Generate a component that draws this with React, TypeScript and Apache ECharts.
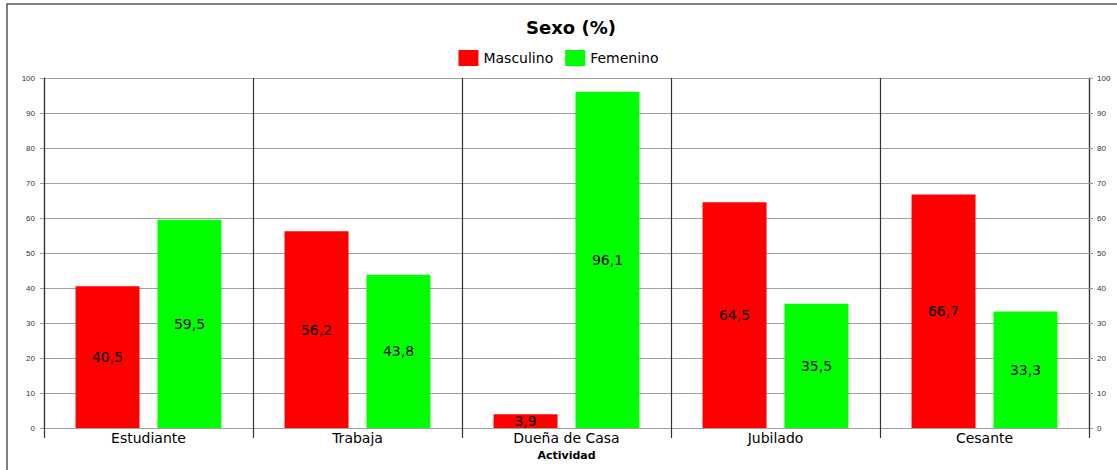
import React, { useEffect, useRef } from "react";
import * as echarts from "echarts";

const categories = ["Estudiante", "Trabaja", "Dueña de Casa", "Jubilado", "Cesante"];
const masculino = [40.5, 56.2, 3.9, 64.5, 66.7];
const femenino = [59.5, 43.8, 96.1, 35.5, 33.3];
const seriesNames = ["Masculino", "Femenino"];

const FONT = "'DejaVu Sans', Verdana, sans-serif";
const SMALL = "'Liberation Sans', Arial, sans-serif";

export default function App() {
  const ref = useRef<HTMLDivElement>(null);
  useEffect(() => {
    if (!ref.current) return;
    const chart = echarts.init(ref.current, undefined, { renderer: "svg" });
    const fmt = (p: any) => String(p.value).replace(".", ",");
    const yAxisBase = {
      type: "value",
      min: 0,
      max: 100,
      interval: 10,
      axisLine: { show: true, lineStyle: { color: "#333", width: 1.2 } },
      axisTick: { show: true, length: 4, lineStyle: { color: "#999" } },
    };
    chart.setOption({
      animation: false,
      backgroundColor: "#fff",
      textStyle: { fontFamily: FONT },
      title: {
        text: "Sexo (%)",
        left: "566",
        textAlign: "center",
        top: 13,
        textStyle: { fontSize: 18, fontWeight: "bold", color: "#000", fontFamily: FONT },
      },
      legend: {
        data: seriesNames,
        top: 45,
        left: "center",
        itemWidth: 20,
        itemHeight: 16,
        itemGap: 12,
        textStyle: { fontSize: 14, color: "#000", fontFamily: FONT },
        icon: "rect",
      },
      grid: { left: 44, right: 28, top: 78, bottom: 42 },
      xAxis: {
        type: "category",
        data: categories,
        name: "Actividad",
        nameLocation: "middle",
        nameGap: 22,
        nameTextStyle: { fontSize: 11, fontWeight: "bold", color: "#000", fontFamily: FONT },
        axisLine: { show: false },
        axisTick: { show: true, length: 10, lineStyle: { color: "#333", width: 1.2 } },
        axisLabel: { fontSize: 14, color: "#000", margin: 3, fontFamily: FONT },
        splitLine: { show: true, lineStyle: { color: "#333", width: 1.2 } },
      },
      yAxis: [
        {
          ...yAxisBase,
          position: "left",
          axisLabel: { fontSize: 8, color: "#333", margin: 9, fontFamily: SMALL },
          splitLine: { show: true, lineStyle: { color: "#a0a0a0", width: 1.2 } },
        },
        {
          ...yAxisBase,
          position: "right",
          axisLabel: { fontSize: 8, color: "#333", margin: 8, fontFamily: SMALL },
          splitLine: { show: false },
        },
      ],
      series: [
        {
          name: seriesNames[0],
          type: "bar",
          data: masculino,
          barWidth: 64,
          barGap: "28%",
          itemStyle: { color: "#ff0000" },
          label: { show: true, position: "inside", formatter: fmt, fontSize: 14, color: "#000", fontFamily: FONT },
        },
        {
          name: seriesNames[1],
          type: "bar",
          data: femenino,
          barWidth: 64,
          barGap: "28%",
          itemStyle: { color: "#00ff00" },
          label: { show: true, position: "inside", formatter: fmt, fontSize: 14, color: "#000", fontFamily: FONT },
        },
      ],
      graphic: [
        {
          type: "rect",
          shape: { x: 7, y: 4, width: 1200, height: 500 },
          style: { fill: "none", stroke: "#555", lineWidth: 1.5 },
          silent: true,
        },
      ],
    });
    return () => chart.dispose();
  }, []);
  return (
    <div
      ref={ref}
      style={{ position: "fixed", left: 0, top: 0, width: 1117, height: 470 }}
    />
  );
}
